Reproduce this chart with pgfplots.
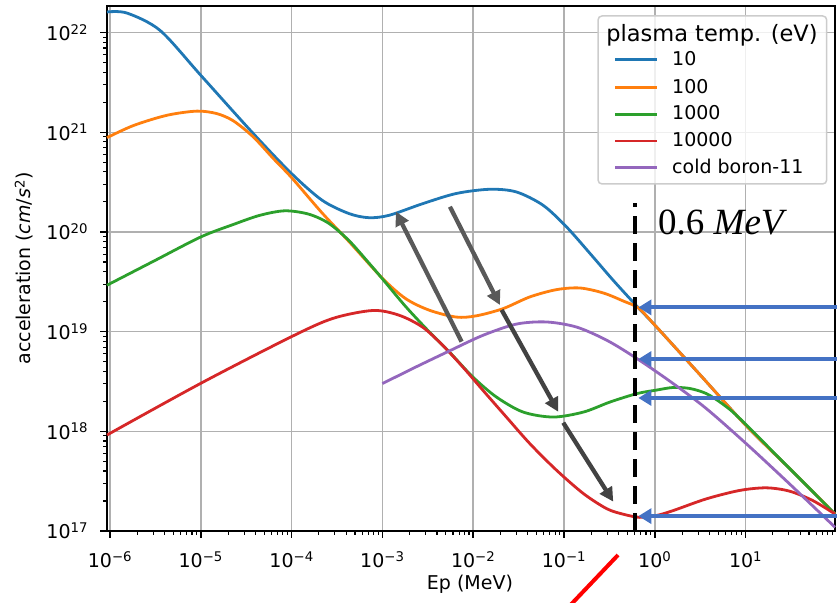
\documentclass[border=0pt]{standalone}
\usepackage{pgfplots}
\pgfplotsset{compat=1.18}
\usepackage{fontspec}
\setmainfont{DejaVu Sans}
\newfontfamily\cambria{Liberation Serif}
\usetikzlibrary{arrows.meta}
\definecolor{c1}{HTML}{1F77B4}
\definecolor{c2}{HTML}{FF7F0E}
\definecolor{c3}{HTML}{2CA02C}
\definecolor{c4}{HTML}{D62728}
\definecolor{c5}{HTML}{9467BD}
\definecolor{gridc}{HTML}{B0B0B0}
\definecolor{arrblue}{HTML}{4472C4}
\definecolor{arrgray}{HTML}{595959}
\definecolor{arrgrayb}{HTML}{424242}
\definecolor{legedge}{HTML}{CCCCCC}
\newcommand{\tickfont}{\fontsize{19}{19}\selectfont}
\begin{document}
\begin{tikzpicture}
\useasboundingbox (-107pt,-71pt) rectangle (730pt,531pt);
\begin{axis}[
  at={(0pt,0pt)}, anchor=south west,
  scale only axis, width=728pt, height=525pt,
  xmode=log, ymode=log, log basis x=10, log basis y=10,
  xmin=9.27e-7, xmax=96.6, ymin=1e17, ymax=1.85e22,
  clip=false,
  grid=major,
  major grid style={line width=1.5pt, color=gridc},
  axis line style={line width=1.5pt, black},
  tick align=outside, tick pos=left,
  major tick length=6.7pt, minor tick length=3.8pt,
  major tick style={line width=1.5pt, black},
  minor tick style={line width=1.1pt, black},
  tick label style={font=\tickfont},
  xticklabel style={anchor=north, inner sep=0pt, yshift=-14pt},
  yticklabel style={anchor=east, inner sep=0pt, xshift=-12pt},
  xticklabel={\pgfmathtruncatemacro\e{round(\tick)}\ifnum\e<0 10\textsuperscript{−\the\numexpr-\e\relax}\else10\textsuperscript{\e}\fi},
  yticklabel={\pgfmathtruncatemacro\e{round(\tick)}10\textsuperscript{\e}},
  xlabel={Ep (MeV)},
  ylabel={acceleration (\textit{cm}/\textit{s}\textsuperscript{2})},
  label style={font=\tickfont},
  xlabel style={at={(axis description cs:0.4986,0)}, anchor=base, yshift=-59pt, inner sep=0pt},
  ylabel style={at={(axis description cs:-0.1044,0.5)}, anchor=base, inner sep=0pt},
  every axis plot/.append style={line width=2.8pt, line join=round, smooth},
]
% 10 eV
\addplot[c1] coordinates {
(9.27e-7,1.61e22) (1.54e-6,1.57e22) (3.57e-6,1.05e22) (1e-5,3.73e21) (3.79e-5,9.70e20) (1e-4,3.85e20) (2.17e-4,2.08e20) (4.28e-4,1.53e20) (7.11e-4,1.39e20) (1.19e-3,1.47e20) (2.77e-3,1.92e20) (6.49e-3,2.43e20) (1.52e-2,2.68e20) (2.99e-2,2.52e20) (5.90e-2,1.85e20) (0.107,1.12e20) (0.194,6.07e19) (0.352,3.24e19) (0.665,1.72e19) (1,1.164e19) (3.162,3.68e18) (10,1.156e18) (31.62,4.10e17) (96.6,1.48e17)
};
% 100 eV
\addplot[c2] coordinates {
(9.27e-7,8.83e20) (1.82e-6,1.17e21) (4.23e-6,1.48e21) (9.04e-6,1.63e21) (1.50e-5,1.54e21) (2.29e-5,1.30e21) (3.79e-5,8.97e20) (6.30e-5,5.45e20) (1e-4,3.51e20) (2.17e-4,1.55e20) (4.27e-4,8.04e19) (1e-3,3.43e19) (1.81e-3,2.14e19) (3.29e-3,1.64e19) (6.49e-3,1.40e19) (1.08e-2,1.44e19) (2.13e-2,1.70e19) (4.21e-2,2.23e19) (8.30e-2,2.64e19) (0.150,2.74e19) (0.272,2.44e19) (0.454,2.02e19) (0.665,1.72e19) (1,1.164e19) (3.162,3.68e18) (10,1.156e18) (31.62,4.10e17) (96.6,1.48e17)
};
% 1000 eV
\addplot[c3] coordinates {
(9.27e-7,2.92e19) (3.05e-6,5.11e19) (1e-5,8.91e19) (2.29e-5,1.19e20) (4.49e-5,1.47e20) (8.45e-5,1.63e20) (1.54e-4,1.51e20) (2.57e-4,1.22e20) (4.27e-4,8.22e19) (7.08e-4,4.90e19) (1e-3,3.39e19) (1.81e-3,1.78e19) (3.29e-3,9.93e18) (5.47e-3,6.25e18) (9.91e-3,3.51e18) (1.80e-2,2.21e18) (3.55e-2,1.56e18) (7.62e-2,1.39e18) (0.164,1.56e18) (0.323,1.97e18) (0.637,2.39e18) (1.042,2.59e18) (1.589,2.75e18) (2.427,2.69e18) (3.698,2.39e18) (5.636,1.87e18) (8.590,1.35e18) (31.62,4.10e17) (96.6,1.48e17)
};
% 10000 eV
\addplot[c4] coordinates {
(9.27e-7,9.18e17) (1e-5,3.03e18) (1e-4,8.91e18) (2.87e-4,1.36e19) (7.89e-4,1.63e19) (1.53e-3,1.46e19) (2.77e-3,1.11e19) (4.61e-3,7.29e18) (7.69e-3,4.42e18) (1.28e-2,2.58e18) (2.32e-2,1.39e18) (4.21e-2,7.52e17) (8.30e-2,4.06e17) (0.164,2.37e17) (0.297,1.67e17) (0.454,1.47e17) (0.684,1.37e17) (1.042,1.43e17) (1.589,1.60e17) (3.698,2.10e17) (8.590,2.55e17) (16.87,2.71e17) (30.48,2.51e17) (54.95,2.02e17) (96.6,1.48e17)
};
% cold boron-11
\addplot[c5] coordinates {
(1e-3,3.01e18) (2.34e-3,4.42e18) (5.47e-3,6.40e18) (1.28e-2,9.18e18) (2.99e-2,1.19e19) (6.43e-2,1.25e19) (0.138,1.11e19) (0.297,8.18e18) (0.637,5.36e18) (1.589,3.02e18) (3.698,1.69e18) (10.16,7.52e17) (30.48,2.97e17) (96.6,1.09e17)
};
% annotations
\draw[black, line width=4pt, dash pattern=on 18pt off 9pt] (axis cs:0.605,1e17) -- (axis cs:0.605,1.95e20);
\node[anchor=base west, inner sep=0pt, font=\cambria\fontsize{37}{37}\selectfont] at (rel axis cs:0.7569,0.5638) {0.6 \textit{MeV}};
\draw[arrgray, line width=4.3pt, -{Triangle[length=14pt,width=14pt]}] (axis cs:7.46e-3,7.93e18) -- (axis cs:1.41e-3,1.60e20);
\draw[arrgray, line width=4.3pt, -{Triangle[length=14pt,width=14pt]}] (axis cs:5.55e-3,1.79e20) -- (axis cs:1.97e-2,1.85e19);
\draw[arrgrayb, line width=4.3pt, -{Triangle[length=14pt,width=14pt]}] (axis cs:2.06e-2,1.65e19) -- (axis cs:8.65e-2,1.57e18);
\draw[arrgrayb, line width=4.3pt, -{Triangle[length=14pt,width=14pt]}] (axis cs:9.82e-2,1.22e18) -- (axis cs:0.349,1.97e17);
\draw[arrblue, line width=4pt, -{Triangle[length=13pt,width=15pt]}] (axis cs:110,1.75e19) -- (axis cs:0.66,1.75e19);
\draw[arrblue, line width=4pt, -{Triangle[length=13pt,width=15pt]}] (axis cs:110,5.31e18) -- (axis cs:0.66,5.31e18);
\draw[arrblue, line width=4pt, -{Triangle[length=13pt,width=15pt]}] (axis cs:110,2.16e18) -- (axis cs:0.66,2.16e18);
\draw[arrblue, line width=4pt, -{Triangle[length=13pt,width=15pt]}] (axis cs:110,1.41e17) -- (axis cs:0.66,1.41e17);
\draw[red, line width=4pt] (axis cs:0.394,5.74e16) -- (axis cs:0.0903,1.40e16);
% legend
\draw[legedge, line width=1.5pt, fill=white, fill opacity=0.8, rounded corners=4pt] (rel axis cs:0.6745,0.6610) rectangle (rel axis cs:0.9886,0.9810);
\node[anchor=base, inner sep=0pt, font=\fontsize{22.5}{22.5}\selectfont] at (rel axis cs:0.8310,0.9320) {plasma temp. (eV)};
\draw[c1, line width=2.8pt] (rel axis cs:0.6978,0.8975) -- (rel axis cs:0.7555,0.8975);
\draw[c2, line width=2.8pt] (rel axis cs:0.6978,0.8444) -- (rel axis cs:0.7555,0.8444);
\draw[c3, line width=2.8pt] (rel axis cs:0.6978,0.7937) -- (rel axis cs:0.7555,0.7937);
\draw[c4, line width=2.8pt] (rel axis cs:0.6978,0.7429) -- (rel axis cs:0.7555,0.7429);
\draw[c5, line width=2.8pt] (rel axis cs:0.6978,0.6920) -- (rel axis cs:0.7555,0.6920);
\node[anchor=base west, inner sep=0pt, font=\tickfont] at (rel axis cs:0.7761,0.8863) {10};
\node[anchor=base west, inner sep=0pt, font=\tickfont] at (rel axis cs:0.7761,0.8335) {100};
\node[anchor=base west, inner sep=0pt, font=\tickfont] at (rel axis cs:0.7761,0.7829) {1000};
\node[anchor=base west, inner sep=0pt, font=\tickfont] at (rel axis cs:0.7761,0.7320) {10000};
\node[anchor=base west, inner sep=0pt, font=\tickfont] at (rel axis cs:0.7761,0.6811) {cold boron-11};
\end{axis}
\end{tikzpicture}
\end{document}
